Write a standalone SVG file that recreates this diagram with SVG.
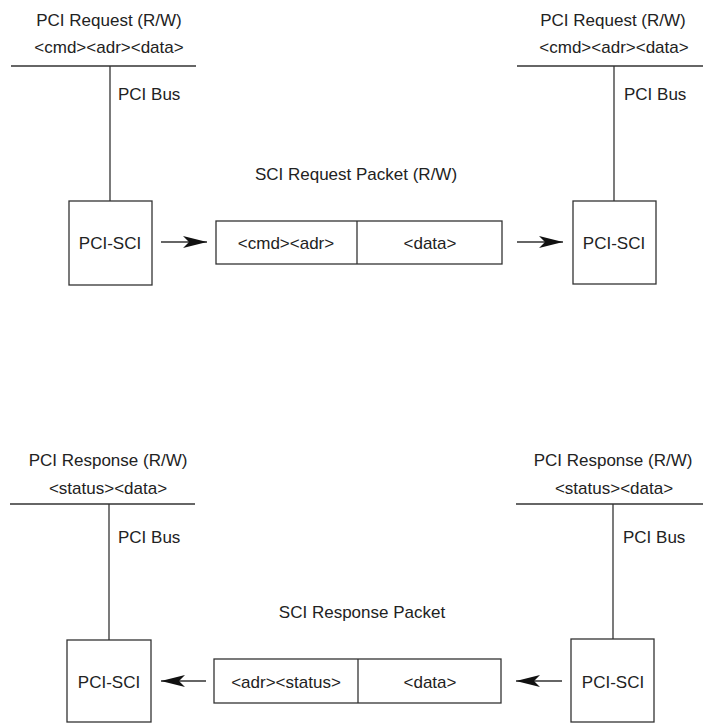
<svg xmlns="http://www.w3.org/2000/svg" width="703" height="723" viewBox="0 0 703 723">
<style>
text{font-family:"Liberation Sans",Arial,sans-serif;font-size:17px;fill:#222;text-anchor:middle}
.ln{stroke:#333;stroke-width:1.3;fill:none}
.bx{stroke:#333;stroke-width:1.3;fill:#fff}
.l{text-anchor:start}
</style>
<defs>
<marker id="ah" markerUnits="userSpaceOnUse" markerWidth="26" markerHeight="14" refX="24" refY="7" orient="auto">
<path d="M0,1 L24,7 L0,13 L6,7 Z" fill="#111"/>
</marker>
</defs>
<g id="bus-top-left">
<text x="109" y="26">PCI Request (R/W)</text>
<text x="109" y="53">&lt;cmd&gt;&lt;adr&gt;&lt;data&gt;</text>
<text class="l" x="118" y="100">PCI Bus</text>
</g>
<g id="bus-top-right">
<text x="613" y="26">PCI Request (R/W)</text>
<text x="614" y="53">&lt;cmd&gt;&lt;adr&gt;&lt;data&gt;</text>
<text class="l" x="624" y="100">PCI Bus</text>
</g>
<g id="bus-bot-left">
<text x="108" y="466">PCI Response (R/W)</text>
<text x="108" y="494">&lt;status&gt;&lt;data&gt;</text>
<text class="l" x="118" y="543">PCI Bus</text>
</g>
<g id="bus-bot-right">
<text x="613" y="466">PCI Response (R/W)</text>
<text x="614" y="494">&lt;status&gt;&lt;data&gt;</text>
<text class="l" x="623" y="543">PCI Bus</text>
</g>
<g id="connectors">
<line class="ln" x1="11" y1="66" x2="196" y2="66"/>
<line class="ln" x1="110" y1="66" x2="110" y2="201"/>
<line class="ln" x1="517" y1="66" x2="703" y2="66"/>
<line class="ln" x1="614" y1="66" x2="614" y2="201"/>
<line class="ln" x1="10" y1="504" x2="195" y2="504"/>
<line class="ln" x1="109" y1="504" x2="109" y2="640"/>
<line class="ln" x1="516" y1="504" x2="703" y2="504"/>
<line class="ln" x1="613" y1="504" x2="613" y2="639"/>
<line class="ln" x1="161" y1="242" x2="207" y2="242" marker-end="url(#ah)"/>
<line class="ln" x1="517" y1="242" x2="563" y2="242" marker-end="url(#ah)"/>
<line class="ln" x1="206" y1="681" x2="161" y2="681" marker-end="url(#ah)"/>
<line class="ln" x1="562" y1="681" x2="516" y2="681" marker-end="url(#ah)"/>
</g>
<g id="pcisci-top-left">
<rect class="bx" x="69" y="201" width="83" height="84"/>
<text x="110" y="249">PCI-SCI</text>
</g>
<g id="pcisci-top-right">
<rect class="bx" x="573" y="201" width="83" height="83"/>
<text x="614" y="249">PCI-SCI</text>
</g>
<g id="req-packet">
<text x="356" y="180">SCI Request Packet (R/W)</text>
<rect class="bx" x="216" y="221" width="286" height="43"/>
<line class="ln" x1="357" y1="221" x2="357" y2="264"/>
<text x="286" y="249">&lt;cmd&gt;&lt;adr&gt;</text>
<text x="430" y="249">&lt;data&gt;</text>
</g>
<g id="pcisci-bot-left">
<rect class="bx" x="67" y="640" width="84" height="82"/>
<text x="109" y="688">PCI-SCI</text>
</g>
<g id="pcisci-bot-right">
<rect class="bx" x="571" y="639" width="83" height="83"/>
<text x="613" y="688">PCI-SCI</text>
</g>
<g id="resp-packet">
<text x="362" y="618">SCI Response Packet</text>
<rect class="bx" x="214" y="659" width="287" height="44"/>
<line class="ln" x1="358" y1="659" x2="358" y2="703"/>
<text x="286" y="688">&lt;adr&gt;&lt;status&gt;</text>
<text x="430" y="688">&lt;data&gt;</text>
</g>
</svg>
